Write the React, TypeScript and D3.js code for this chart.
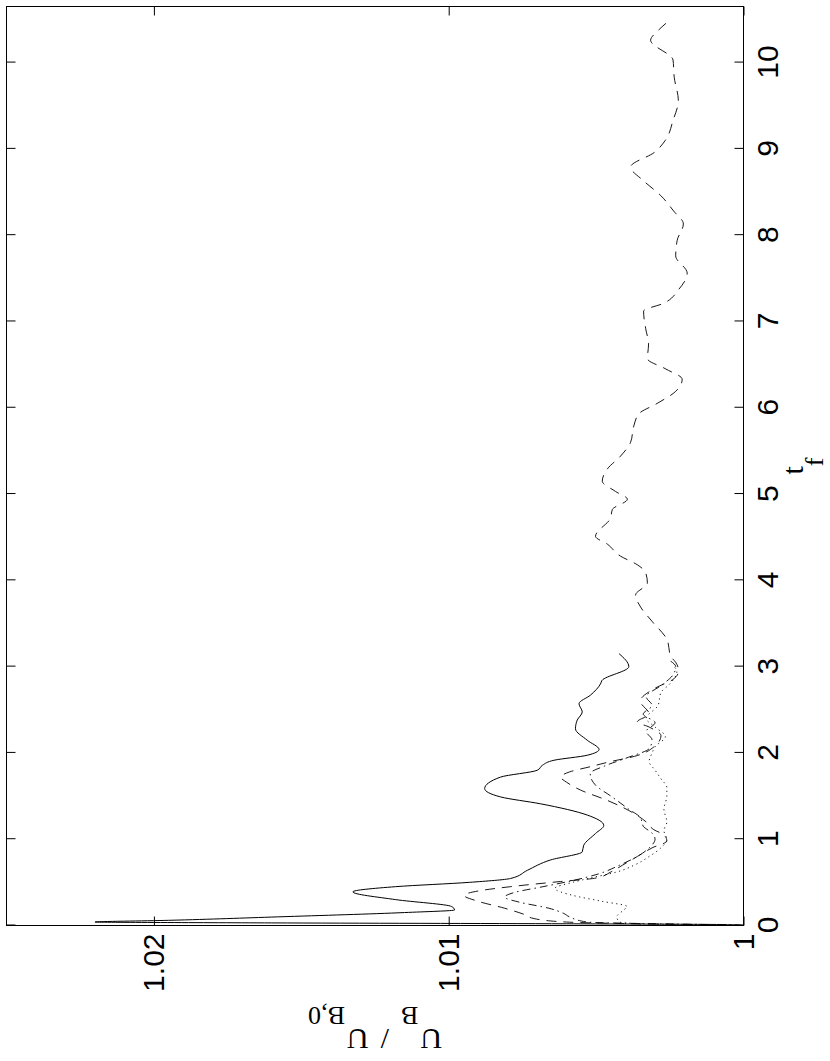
import { useEffect, useRef } from 'react';
import * as d3 from 'd3';

const tSolid = [0, 0.01, 0.02, 0.03, 0.04, 0.06, 0.10, 0.15, 0.18, 0.22, 0.30, 0.39, 0.45, 0.50, 0.545, 0.64, 0.76, 0.853, 0.93, 1.066, 1.16, 1.28, 1.41, 1.49, 1.587, 1.72, 1.80, 1.857, 1.915, 1.973, 2.04, 2.147, 2.28, 2.38, 2.475, 2.57, 2.67, 2.80, 2.84, 3.00, 3.15];
const uSolid = [1.0000, 1.0005, 1.0060, 1.0160, 1.0220, 1.0195, 1.0158, 1.0115, 1.0098, 1.0099, 1.0118, 1.01325, 1.0118, 1.0093, 1.0079, 1.00733, 1.00654, 1.00547, 1.00542, 1.00502, 1.00474, 1.0053, 1.00688, 1.00824, 1.00878, 1.00824, 1.00699, 1.00682, 1.00643, 1.0053, 1.0049, 1.0053, 1.0057, 1.00564, 1.00547, 1.00558, 1.00519, 1.00485, 1.0048, 1.00389, 1.00422];

const tDashed = [0, 0.01, 0.02, 0.04, 0.08, 0.13, 0.20, 0.28, 0.35, 0.40, 0.45, 0.51, 0.55, 0.62, 0.70, 0.80, 0.90, 0.98, 1.05, 1.11, 1.20, 1.30, 1.45, 1.57, 1.66, 1.72, 1.78, 1.84, 1.90, 1.96, 2.07, 2.20, 2.30, 2.36, 2.45, 2.60, 2.75, 2.85, 2.95, 3.05, 3.12, 3.31, 3.52, 3.69, 3.83, 3.97, 4.09, 4.18, 4.28, 4.42, 4.51, 4.72, 4.82, 4.94, 5.03, 5.15, 5.29, 5.44, 5.60, 5.79, 5.93, 6.05, 6.19, 6.33, 6.45, 6.57, 6.74, 6.92, 7.12, 7.21, 7.37, 7.56, 7.76, 7.94, 8.13, 8.28, 8.46, 8.63, 8.79, 8.96, 9.10, 9.33, 9.56, 9.83, 10.03, 10.26, 10.37, 10.50];
const uDashed = [1.0000, 1.0015, 1.0035, 1.0060, 1.0071, 1.00745, 1.0081, 1.0090, 1.00948, 1.0090, 1.0079, 1.0062, 1.0050, 1.0045, 1.0041, 1.0036, 1.0031, 1.0026, 1.0027, 1.00304, 1.0033, 1.00372, 1.00462, 1.00553, 1.0060, 1.0062, 1.0059, 1.0052, 1.0045, 1.0037, 1.00304, 1.0028, 1.0032, 1.0036, 1.0032, 1.0035, 1.0030, 1.0024, 1.0022, 1.0023, 1.00247, 1.00259, 1.00309, 1.00349, 1.00366, 1.00326, 1.00332, 1.0036, 1.00417, 1.00462, 1.00502, 1.00451, 1.00445, 1.00394, 1.00434, 1.00479, 1.00462, 1.00417, 1.00383, 1.00372, 1.00355, 1.00293, 1.0023, 1.00208, 1.00264, 1.00326, 1.00322, 1.00332, 1.00339, 1.00271, 1.0022, 1.00191, 1.0023, 1.00225, 1.00204, 1.00237, 1.00281, 1.00339, 1.00383, 1.00302, 1.00265, 1.00239, 1.00221, 1.00235, 1.00239, 1.00315, 1.0029, 1.00247];

const tDashDot = [0, 0.01, 0.02, 0.04, 0.10, 0.14, 0.20, 0.27, 0.33, 0.38, 0.45, 0.52, 0.60, 0.70, 0.80, 0.90, 1.00, 1.07, 1.15, 1.25, 1.35, 1.50, 1.62, 1.76, 1.85, 1.95, 2.05, 2.15, 2.25, 2.35, 2.45, 2.55, 2.65, 2.78, 2.90, 3.00, 3.07];
const uDashDot = [1.0000, 1.0010, 1.0030, 1.0053, 1.0059, 1.0061, 1.0066, 1.0076, 1.0081, 1.0078, 1.0068, 1.0058, 1.0049, 1.0042, 1.0036, 1.0032, 1.0030, 1.0031, 1.0034, 1.0035, 1.0039, 1.0045, 1.0050, 1.0052, 1.0047, 1.0039, 1.0032, 1.0031, 1.0033, 1.0030, 1.0034, 1.0031, 1.0033, 1.0028, 1.0024, 1.0023, 1.0025];

const tDotted = [0, 0.01, 0.02, 0.04, 0.10, 0.17, 0.22, 0.28, 0.35, 0.43, 0.50, 0.55, 0.62, 0.70, 0.80, 0.90, 1.00, 1.10, 1.20, 1.35, 1.50, 1.60, 1.70, 1.80, 1.90, 2.00, 2.07, 2.19, 2.30, 2.40, 2.55, 2.70, 2.80, 2.94, 3.00];
const uDotted = [1.0000, 1.0015, 1.0035, 1.0042, 1.0043, 1.0041, 1.00395, 1.0048, 1.0058, 1.0064, 1.0058, 1.0052, 1.0043, 1.0037, 1.0032, 1.0028, 1.0026, 1.0027, 1.0026, 1.0027, 1.0026, 1.0026, 1.0028, 1.0030, 1.0032, 1.0031, 1.0030, 1.00265, 1.0030, 1.0033, 1.0029, 1.0028, 1.0025, 1.00226, 1.00235];

const tTicks = [0, 1, 2, 3, 4, 5, 6, 7, 8, 9, 10];
const uTicks = [1, 1.01, 1.02];

const series = [
  { t: tSolid, u: uSolid, dash: null, width: 1 },
  { t: tDashed, u: uDashed, dash: '10,7', width: 0.9 },
  { t: tDashDot, u: uDashDot, dash: '8,4,1.5,4', width: 0.9 },
  { t: tDotted, u: uDotted, dash: '1.2,3.5', width: 0.9 },
];

export default function App() {
  const svgRef = useRef<SVGSVGElement>(null);

  useEffect(() => {
    const svg = d3.select(svgRef.current);
    svg.selectAll('*').remove();

    // the figure is a normal t_f / U plot turned 90 degrees counter-clockwise
    const W = 919;
    const H = 737;
    const x = d3.scaleLinear().domain([0, 10.65]).range([0, W]);
    const y = d3.scaleLinear().domain([1, 1.025]).range([H, 0]);

    const g = svg.append('g').attr('transform', 'translate(6.5,925.5) rotate(-90)');

    const sans = "'Liberation Sans', Arial, Helvetica, sans-serif";
    const serif = "'Liberation Serif', 'Times New Roman', serif";

    // curves
    const line = d3.line<[number, number]>()
      .x(d => x(d[0]))
      .y(d => y(d[1]))
      .curve(d3.curveMonotoneX);

    series.forEach(s => {
      const pts = s.t.map((t, i) => [t, s.u[i]] as [number, number]);
      const p = g.append('path')
        .attr('d', line(pts))
        .attr('fill', 'none')
        .attr('stroke', '#000')
        .attr('stroke-width', s.width);
      if (s.dash) p.attr('stroke-dasharray', s.dash);
    });

    // axes with inward ticks on all sides
    const styleAxis = (sel: any) => {
      sel.select('.domain').remove();
      sel.selectAll('line').attr('stroke', '#000');
      sel.attr('font-family', sans).attr('font-size', 30);
      sel.selectAll('text').attr('fill', '#000');
    };

    g.append('g')
      .attr('transform', `translate(0,${H})`)
      .call(d3.axisBottom(x).tickValues(tTicks).tickSizeInner(-9).tickSizeOuter(0).tickPadding(13).tickFormat(d3.format('d')))
      .call(styleAxis);

    g.append('g')
      .call(d3.axisTop(x).tickValues(tTicks).tickSizeInner(-9).tickSizeOuter(0).tickFormat(() => ''))
      .call(styleAxis);

    g.append('g')
      .call(d3.axisLeft(y).tickValues(uTicks).tickSizeInner(-9).tickSizeOuter(0).tickPadding(8)
        .tickFormat(d => (+d === 1 ? '1' : d3.format('.2f')(+d))))
      .call(styleAxis);

    g.append('g')
      .attr('transform', `translate(${W},0)`)
      .call(d3.axisRight(y).tickValues(uTicks).tickSizeInner(-9).tickSizeOuter(0).tickFormat(() => ''))
      .call(styleAxis);

    // box
    g.append('rect')
      .attr('x', 0).attr('y', 0)
      .attr('width', W).attr('height', H)
      .attr('fill', 'none')
      .attr('stroke', '#000')
      .attr('stroke-width', 1);

    // x label: t_f
    const xl = g.append('text')
      .attr('x', W / 2)
      .attr('y', H + 59)
      .attr('text-anchor', 'middle')
      .attr('font-family', serif)
      .attr('font-size', 30);
    xl.append('tspan').text('t');
    xl.append('tspan').attr('font-size', 26).attr('dy', 20).text('f');

    // y label: U_B / U_B,0
    const yl = g.append('text')
      .attr('transform', `translate(-103,${H / 2}) rotate(-90)`)
      .attr('text-anchor', 'middle')
      .attr('font-family', serif)
      .attr('font-size', 30);
    yl.append('tspan').text('U');
    yl.append('tspan').attr('font-size', 26).attr('dy', 22).attr('dx', 2).text('B');
    yl.append('tspan').attr('dy', -22).attr('dx', 12).text('/');
    yl.append('tspan').attr('dx', 12).text('U');
    yl.append('tspan').attr('font-size', 26).attr('dy', 22).attr('dx', 2).text('B,0');
  }, []);

  return (
    <svg
      ref={svgRef}
      width={830}
      height={1061}
      style={{ position: 'absolute', left: 0, top: 0, background: '#fff' }}
    />
  );
}
